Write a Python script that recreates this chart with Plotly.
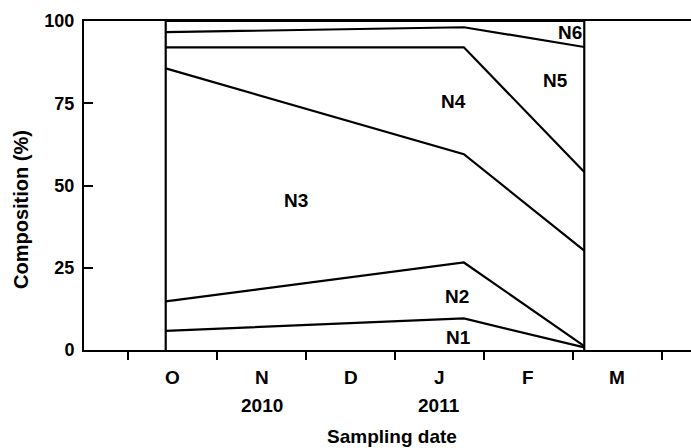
import datetime as dt
import calendar
import numpy as np
import plotly.graph_objects as go

# Sampling dates and the composition (%) of each group at every date
sample_dates = ["2010-10-14", "2011-01-25", "2011-03-05"]
groups = ["N1", "N2", "N3", "N4", "N5", "N6"]
composition = {
    "N1": [5.8, 9.6, 0.8],
    "N2": [9.0, 17.0, 0.4],
    "N3": [70.8, 32.9, 29.0],
    "N4": [6.4, 32.5, 23.9],
    "N5": [4.6, 6.1, 38.0],
    "N6": [3.4, 1.9, 7.9],
}

# Month labels shown under the axis, with the year under N and J
month_labels = ["O", "N", "D", "J", "F", "M"]
year_labels = {"N": "2010", "J": "2011"}

# Where the group names sit (month position, %)
group_label_x = [3.71, 3.70, 1.89, 3.66, 4.81, 4.97]
group_label_y = [3.7, 16.3, 45.5, 75.6, 81.9, 96.5]

START = dt.date(2010, 10, 1)


def month_pos(s):
    """Date -> months since 1 Oct 2010 (each month drawn with equal width)."""
    d = dt.date.fromisoformat(s)
    m = (d.year - START.year) * 12 + (d.month - START.month)
    days = calendar.monthrange(d.year, d.month)[1]
    return m + (d.day - 1) / days


xs = [month_pos(s) for s in sample_dates]
cum = np.cumsum(np.array([composition[g] for g in groups]), axis=0)

FONT = dict(family="Liberation Sans, Arial, sans-serif", color="black", weight="bold")
LINE = dict(color="black", width=2.2)

fig = go.Figure()

# Boundary lines between the stacked groups
for row in cum:
    fig.add_trace(go.Scatter(x=xs, y=row, mode="lines", line=LINE, hoverinfo="skip"))

# Vertical lines at the first and last sampling dates
for x in (xs[0], xs[-1]):
    fig.add_trace(go.Scatter(x=[x, x], y=[0, 100], mode="lines", line=LINE, hoverinfo="skip"))

annotations = []
for g, x, y in zip(groups, group_label_x, group_label_y):
    annotations.append(dict(x=x, y=y, xref="x", yref="y", text=g, showarrow=False,
                            font=dict(FONT, size=19)))

for i, m in enumerate(month_labels):
    annotations.append(dict(x=i + 0.5, y=0, xref="x", yref="paper", yanchor="middle",
                            yshift=-27, text=m, showarrow=False, font=dict(FONT, size=19)))
    if m in year_labels:
        annotations.append(dict(x=i + 0.5, y=0, xref="x", yref="paper", yanchor="middle",
                                yshift=-55, text=year_labels[m], showarrow=False,
                                font=dict(FONT, size=19)))

annotations.append(dict(x=(391.5 - 84) / 607, y=0, xref="paper", yref="paper",
                        yanchor="middle", yshift=-86, text="Sampling date",
                        showarrow=False, font=dict(FONT, size=19)))
annotations.append(dict(x=(21 - 84) / 607, y=(350 - 210) / 329, xref="paper", yref="paper",
                        xanchor="center", yanchor="middle", textangle=-90,
                        text="Composition (%)", showarrow=False, font=dict(FONT, size=20)))

fig.update_layout(
    width=691, height=448,
    margin=dict(l=84, r=0, t=21, b=98),
    paper_bgcolor="white", plot_bgcolor="white",
    showlegend=False,
    annotations=annotations,
    xaxis=dict(
        range=[-0.5, 6.33], tickvals=list(range(0, 7)), showticklabels=False,
        ticks="outside", ticklen=8, tickwidth=2, tickcolor="black",
        showline=True, linecolor="black", linewidth=2, mirror=True,
        showgrid=False, zeroline=False,
    ),
    yaxis=dict(
        range=[0, 100], tickvals=[0, 25, 50, 75, 100],
        ticks="inside", ticklen=9, tickwidth=2, tickcolor="black",
        tickfont=dict(FONT, size=18), ticklabelstandoff=4,
        showline=True, linecolor="black", linewidth=2,
        showgrid=False, zeroline=False,
    ),
)

fig.write_html("out.html")
